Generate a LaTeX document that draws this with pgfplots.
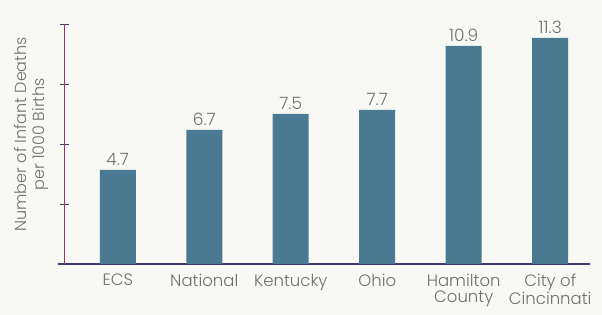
\documentclass[border=0pt]{standalone}
\usepackage{fontspec}
\setmainfont{Poppins}[UprightFont={* Light}]
\usepackage{pgfplots}
\pgfplotsset{compat=1.18}
\definecolor{bg}{HTML}{F8F8F5}
\definecolor{barc}{HTML}{4A7A92}
\definecolor{yax}{HTML}{A0306A}
\definecolor{xax}{HTML}{4A3A6A}
\definecolor{txt}{HTML}{707070}
\begin{document}
\begin{tikzpicture}
\fill[bg] (-65pt,-51pt) rectangle (537pt,264pt);
\useasboundingbox (-65pt,-51pt) rectangle (537pt,264pt);
\begin{axis}[
  at={(0pt,0pt)}, anchor=south west,
  scale only axis, width=525pt, height=240pt,
  ybar, bar width=36pt,
  xmin=-0.61, xmax=5.46, ymin=0, ymax=12,
  axis lines=left,
  axis line style={-},
  x axis line style={draw=xax, line width=1.2pt, shorten <=-7pt},
  y axis line style={draw=yax, line width=1pt},
  ytick={3,6,9,12}, yticklabels={},
  tick align=center, major tick length=9pt,
  y tick style={draw=xax, line width=0.8pt},
  xtick=data,
  xticklabels={ECS,National,Kentucky,Ohio,{Hamilton\\County},{City of\\Cincinnati}},
  x tick style={draw=none},
  xticklabel style={align=center, text=txt, font=\fontsize{16.5}{16}\selectfont, anchor=north, yshift=-2pt},
  ylabel={Number of Infant Deaths\\per 1000 Births},
  ylabel style={at={(axis description cs:-0.025,0.54)}, anchor=south, align=center, text=txt, font=\fontsize{16}{18}\selectfont},
  nodes near coords,
  every node near coord/.append style={text=txt, font=\fontsize{17}{17}\selectfont, yshift=1pt},
  point meta=explicit symbolic,
]
\addplot[fill=barc, draw=none] coordinates {
  (0,4.7) [4.7]
  (1,6.7) [6.7]
  (2,7.5) [7.5]
  (3,7.7) [7.7]
  (4,10.9) [10.9]
  (5,11.3) [11.3]
};
\end{axis}
\end{tikzpicture}
\end{document}
